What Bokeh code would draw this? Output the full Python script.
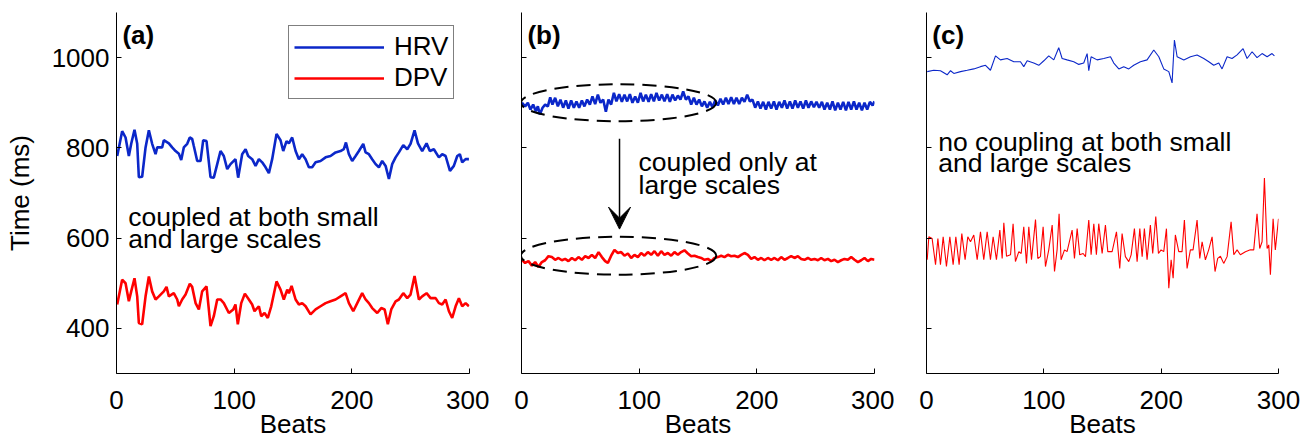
from bokeh.plotting import figure
from bokeh.layouts import row
from bokeh.models import Range1d, FixedTicker, Label, Legend, LegendItem, Arrow, VeeHead
from bokeh.embed import file_html
from bokeh.resources import INLINE

FONT = "Liberation Sans"
BLUE = "#0b27c9"
RED = "#ff0000"

X_TICKS = [0, 100, 200, 300]
Y_TICKS = [400, 600, 800, 1000]
SERIES_NAMES = ["HRV", "DPV"]
PANEL_TAGS = ["(a)", "(b)", "(c)"]

# (beat, time in ms)
A_HRV = [(0.6,782),(4.8,837),(7.7,823),(10.5,782),(12.5,809),(15.3,840),(17.6,809),(19.0,735),(21.8,736),(24.7,801),
         (27.5,839),(30.3,809),(33.2,786),(34.6,801),(38.8,801),(40.2,817),(44.5,810),(47.3,801),(50.2,793),(53.0,787),
         (55.0,773),(57.2,801),(60.1,809),(62.3,823),(64.3,820),(65.7,804),(68.6,771),(71.4,771),(73.7,817),(76.5,815),
         (79.9,735),(82.7,734),(85.6,764),(88.4,793),(91.2,782),(94.1,753),(96.9,764),(101.1,775),(103.4,734),(106.8,786),
         (109.7,797),(111.9,782),(115.3,775),(118.2,760),(121.0,775),(123.8,768),(126.7,757),(129.5,744),(132.3,775),(136.0,831),
         (139.4,817),(141.7,793),(144.5,815),(146.5,810),(149.3,823),(152.2,793),(155.0,775),(157.8,786),(160.7,775),(163.5,757),
         (166.3,757),(169.2,768),(173.4,771),(177.7,779),(181.9,782),(186.2,790),(190.4,793),(193.2,797),(195.0,812),(197.5,786),
         (200.3,771),(203.2,782),(206.0,793),(209.7,809),(211.7,790),(214.5,786),(217.3,775),(220.2,764),(223.0,757),(225.8,771),
         (228.7,760),(231.5,731),(234.3,764),(237.2,779),(240.0,790),(243.7,806),(247.1,797),(249.9,809),(253.3,839),(256.2,810),
         (259.8,793),(263.5,810),(266.3,793),(269.7,797),(274.0,779),(276.8,786),(279.7,782),(283.4,749),(286.7,760),(289.6,782),
         (291.8,786),(293.8,768),(296.7,775),(299.5,775)]

A_DPV = [(0.6,453),(4.8,508),(7.7,500),(10.5,460),(12.5,482),(15.3,511),(17.6,471),(19.0,412),(21.8,409),(24.7,471),
         (27.5,515),(30.3,482),(33.2,464),(36.0,471),(40.2,482),(42.5,492),(44.5,471),(48.7,478),(51.6,464),(53.0,449),
         (55.8,464),(58.7,475),(62.3,499),(64.3,492),(67.2,456),(70.0,442),(72.8,482),(76.5,493),(79.9,405),(82.7,427),
         (85.6,464),(88.4,464),(91.2,456),(95.5,434),(99.2,442),(101.1,453),(103.1,409),(106.0,456),(109.1,477),(112.5,464),
         (115.3,453),(117.3,438),(121.0,449),(123.0,427),(125.8,434),(128.6,423),(131.5,449),(136.0,504),(139.4,486),(142.2,464),
         (145.1,486),(146.5,478),(148.8,494),(152.2,464),(155.0,453),(157.8,456),(160.7,449),(164.9,431),(169.2,442),(173.4,449),
         (177.7,456),(181.9,460),(186.2,464),(190.4,471),(194.7,478),(197.5,456),(201.2,438),(204.6,456),(208.8,478),(211.7,464),
         (214.5,456),(217.3,445),(221.6,434),(225.0,445),(227.9,442),(230.6,409),(233.5,442),(237.2,460),(240.0,464),(243.7,478),
         (247.1,467),(249.9,475),(253.3,516),(257.0,464),(259.8,471),(263.5,478),(266.9,467),(271.2,467),(274.0,456),(276.8,453),
         (279.7,464),(282.5,438),(285.3,423),(288.2,449),(291.0,467),(293.8,449),(296.7,456),(299.5,449)]

B_HRV = [(0.3,900),(3.1,892),(5.4,900),(7.6,885),(9.9,896),(12.2,881),(13.9,892),(15.6,874),(17.9,889),(20.1,896),
         (22.4,892),(24.4,912),(26.3,896),(28.6,911),(30.9,892),(33.1,907),(35.4,889),(37.7,905),(39.9,887),(42.2,905),
         (44.5,889),(46.7,903),(49.0,889),(51.3,905),(53.5,892),(55.8,907),(58.1,896),(60.3,914),(62.6,897),(64.9,918),
         (67.1,900),(69.4,907),(71.7,880),(73.9,907),(76.2,896),(78.5,922),(80.7,903),(83.0,919),(85.3,902),(87.5,918),
         (89.8,903),(92.1,919),(94.3,900),(96.6,914),(98.9,900),(101.2,922),(103.4,903),(105.7,918),(108.0,902),(110.2,919),
         (112.5,903),(114.7,922),(117.0,905),(119.3,918),(121.5,903),(123.8,919),(126.1,902),(128.3,918),(130.6,905),(132.9,916),
         (135.1,907),(137.4,925),(139.7,907),(141.9,914),(144.2,896),(146.5,911),(148.7,896),(151.0,907),(153.3,892),(155.5,903),
         (157.8,889),(160.1,902),(162.3,890),(164.6,905),(166.9,894),(169.1,909),(171.4,896),(173.7,911),(175.9,897),(178.2,912),
         (180.5,897),(182.7,911),(185.0,897),(187.3,911),(189.5,902),(191.8,918),(194.1,903),(196.3,907),(198.6,889),(200.9,903),
         (203.1,887),(205.4,902),(207.7,885),(209.9,902),(212.2,887),(214.5,903),(216.7,885),(219.0,902),(221.3,889),(223.5,905),
         (225.8,887),(228.1,903),(230.3,887),(232.6,905),(234.9,889),(237.1,903),(239.4,887),(241.7,905),(243.9,889),(246.2,903),
         (248.5,890),(250.7,902),(253.0,889),(255.3,902),(257.5,885),(259.8,900),(262.1,885),(264.3,903),(266.6,883),(268.9,900),
         (271.1,885),(273.4,902),(275.7,883),(277.9,902),(280.2,885),(282.5,903),(284.7,885),(287.0,900),(289.3,883),(291.5,900),
         (293.8,885),(296.1,902),(298.4,894),(300.0,903)]

B_DPV = [(0.3,552),(3.1,545),(5.9,549),(8.8,539),(11.6,547),(14.4,536),(17.3,547),(20.1,551),(22.9,560),(25.8,558),
         (28.6,552),(31.4,556),(34.3,551),(37.1,554),(39.9,549),(42.8,556),(45.6,551),(48.4,558),(51.3,552),(54.1,560),
         (57.0,556),(59.8,563),(62.6,556),(65.5,569),(68.3,558),(71.1,549),(73.4,545),(76.2,561),(79.0,574),(81.9,567),
         (84.7,569),(87.5,561),(90.4,566),(93.2,556),(96.0,563),(98.9,558),(101.7,567),(104.5,561),(107.4,569),(110.2,563),
         (113.0,571),(115.9,561),(118.7,571),(121.5,563),(124.4,567),(127.2,561),(130.0,569),(132.9,563),(135.7,569),(138.5,573),
         (141.4,566),(144.2,560),(147.0,561),(149.9,558),(152.7,556),(155.5,552),(158.4,554),(161.2,549),(164.0,556),(166.9,558),
         (169.7,561),(172.5,558),(175.4,563),(178.2,560),(181.0,561),(183.9,558),(186.7,563),(189.5,567),(192.4,563),(195.2,554),
         (198.0,558),(200.9,552),(203.7,556),(206.5,551),(209.4,556),(212.2,552),(215.0,556),(217.9,551),(220.7,558),(223.5,552),
         (226.4,556),(229.2,560),(232.0,556),(234.9,560),(237.7,554),(240.5,552),(243.4,556),(246.2,552),(249.0,554),(251.9,551),
         (254.7,556),(257.5,551),(260.4,554),(263.2,549),(266.0,552),(268.9,547),(271.7,551),(274.5,554),(277.4,552),(280.2,558),
         (283.0,552),(285.9,547),(288.7,551),(291.5,556),(294.4,549),(297.2,554),(300.0,552)]

C_HRV = [(0.6,969),(6.2,972),(11.9,971),(17.6,962),(20.5,971),(23.3,965),(29.0,969),(34.7,972),(40.3,975),(46.0,980),
         (50.3,983),(54.5,972),(58.8,1004),(63.0,995),(68.7,998),(74.4,991),(80.1,991),(82.9,980),(85.8,993),(91.4,988),
         (95.7,983),(100.0,993),(104.2,1004),(108.5,995),(112.7,1022),(115.6,998),(119.8,995),(125.5,991),(129.8,985),(134.0,988),
         (136.9,1009),(138.3,971),(140.3,1002),(145.4,995),(151.1,998),(156.8,1002),(159.6,988),(163.9,975),(168.1,980),(172.4,975),
         (176.6,983),(182.3,991),(188.0,995),(193.7,1017),(198.0,1002),(202.2,975),(206.5,969),(209.3,944),(211.3,1039),(213.6,1002),
         (219.3,995),(225.0,1002),(230.6,1006),(236.3,998),(240.6,991),(244.8,983),(249.1,988),(251.9,975),(256.2,1002),(260.4,998),
         (264.7,1006),(269.8,1020),(273.2,998),(277.5,1013),(281.7,1000),(286.0,1009),(290.3,1002),(294.5,1009),(296.5,1004)]

C_DPV = [(0.6,552),(2.0,603),(4.8,599),(7.7,541),(9.7,599),(11.9,541),(14.2,603),(17.0,537),(19.9,603),(22.7,541),
         (25.0,603),(27.8,541),(30.1,610),(32.9,552),(35.2,603),(37.5,592),(40.3,607),(43.2,552),(46.0,614),(48.8,552),
         (51.7,614),(54.5,552),(56.8,603),(59.6,552),(62.5,618),(64.5,555),(65.9,634),(68.2,560),(71.6,563),(73.8,632),
         (75.8,548),(78.7,570),(80.7,566),(82.9,625),(85.2,544),(87.2,625),(89.5,552),(92.9,641),(94.9,555),(97.1,559),
         (99.4,625),(101.4,537),(104.2,574),(107.1,629),(109.1,526),(111.3,574),(113.0,654),(114.7,552),(117.6,574),(119.8,570),
         (124.1,618),(126.1,555),(128.4,621),(130.6,563),(133.5,566),(135.5,559),(138.3,640),(140.3,563),(142.6,632),(144.8,563),
         (146.8,632),(149.7,566),(152.5,629),(154.5,570),(158.2,570),(161.9,614),(164.7,533),(166.7,610),(169.5,559),(172.4,548),
         (174.4,563),(177.2,621),(179.5,548),(181.8,621),(183.8,559),(185.7,621),(188.0,552),(190.8,629),(192.8,566),(195.4,648),
         (197.7,566),(199.9,574),(202.2,570),(204.5,621),(206.5,489),(208.5,552),(210.2,511),(212.1,607),(215.0,570),(217.8,570),
         (219.8,640),(222.1,533),(224.9,574),(227.2,574),(230.6,640),(232.9,555),(234.9,592),(237.7,552),(240.5,574),(243.4,603),
         (245.9,526),(248.2,555),(250.5,560),(253.3,544),(256.2,559),(259.6,636),(261.9,563),(264.7,574),(267.5,563),(271.8,570),
         (276.0,574),(278.9,574),(281.7,654),(284.0,577),(286.0,592),(288.0,733),(290.3,577),(291.7,585),(293.1,519),(295.4,643),
         (297.3,574),(300.0,643)]

PANELS = [(A_HRV, A_DPV), (B_HRV, B_DPV), (C_HRV, C_DPV)]

H = 441
TOP = 12
BOTTOM = 68


def xy(pairs):
    return [b for b, _ in pairs], [v for _, v in pairs]


def make_fig(width, left, right, show_ylabels):
    p = figure(width=width, height=H, x_range=Range1d(0, 300), y_range=Range1d(300, 1100),
               output_backend="svg", toolbar_location=None,
               min_border_left=left, min_border_right=right, min_border_top=TOP,
               min_border_bottom=BOTTOM)
    p.outline_line_color = None
    p.grid.visible = False
    p.background_fill_color = "white"
    p.border_fill_color = "white"
    p.xaxis.ticker = FixedTicker(ticks=X_TICKS)
    p.yaxis.ticker = FixedTicker(ticks=Y_TICKS)
    for ax in (p.xaxis[0], p.yaxis[0]):
        ax.major_tick_in = 5
        ax.major_tick_out = 0
        ax.minor_tick_line_color = None
        ax.axis_line_color = "black"
        ax.axis_line_width = 1
        ax.major_tick_line_color = "black"
        ax.major_label_text_font = FONT
        ax.major_label_text_font_size = "26px"
        ax.major_label_text_color = "black"
        ax.axis_label_text_font = FONT
        ax.axis_label_text_font_size = "26px"
        ax.axis_label_text_font_style = "normal"
        ax.axis_label_text_color = "black"
    p.xaxis.major_label_standoff = 17
    p.xaxis.axis_label = "Beats"
    p.xaxis.axis_label_standoff = -3
    p.yaxis.major_label_standoff = 7
    if show_ylabels:
        p.yaxis.axis_label = "Time (ms)"
        p.yaxis.axis_label_standoff = 14
    else:
        p.yaxis.major_label_overrides = {t: "" for t in Y_TICKS}
    return p


pa = make_fig(489, 116, 20, True)
pb = make_fig(405, 32, 20, False)
pc = make_fig(408, 32, 24, False)
figs = [pa, pb, pc]

widths = [2.6, 2.6, 1.1]
renderers = []
for p, (hrv, dpv), w in zip(figs, PANELS, widths):
    hx, hy = xy(hrv)
    dx, dy = xy(dpv)
    r1 = p.line(hx, hy, line_color=BLUE, line_width=w)
    r2 = p.line(dx, dy, line_color=RED, line_width=w)
    renderers.append((r1, r2))

# legend in (a)
leg = Legend(items=[LegendItem(label=SERIES_NAMES[0], renderers=[renderers[0][0]]),
                    LegendItem(label=SERIES_NAMES[1], renderers=[renderers[0][1]])],
             location=(172, 274), margin=0, padding=5, spacing=-3,
             glyph_width=90, glyph_height=20, label_height=20, label_standoff=10,
             label_text_font=FONT, label_text_font_size="26px", label_text_color="black",
             border_line_color="black", border_line_width=1, background_fill_color="white",
             background_fill_alpha=1)
pa.add_layout(leg)

# panel tags
for p, tag in zip(figs, PANEL_TAGS):
    p.add_layout(Label(x=5, y=1050, text=tag, text_font=FONT, text_font_size="26px",
                       text_font_style="bold", text_baseline="middle", text_color="black"))


def note(p, x, y, txt):
    p.add_layout(Label(x=x, y=y, text=txt, text_font=FONT, text_font_size="26.5px",
                       text_baseline="alphabetic", text_color="black"))


# annotations (a)
note(pa, 10, 646, "coupled at both small")
note(pa, 10, 597, "and large scales")

# annotations (b)
pb.ellipse(x=[82.5], y=[900], width=[166], height=[82], fill_color=None,
           line_color="black", line_width=2, line_dash="14 8")
pb.ellipse(x=[82.5], y=[561], width=[166], height=[84], fill_color=None,
           line_color="black", line_width=2, line_dash="14 8")
pb.add_layout(Arrow(end=VeeHead(size=22, fill_color="black", line_color="black"),
                    x_start=83.3, y_start=820, x_end=83.3, y_end=620,
                    line_color="black", line_width=1.5))
note(pb, 99.5, 769, "coupled only at")
note(pb, 99.5, 717, "large scales")

# annotations (c)
note(pc, 10, 814, "no coupling at both small")
note(pc, 10, 766, "and large scales")

layout = row(pa, pb, pc)
open("out.html", "w").write(file_html(layout, INLINE))
